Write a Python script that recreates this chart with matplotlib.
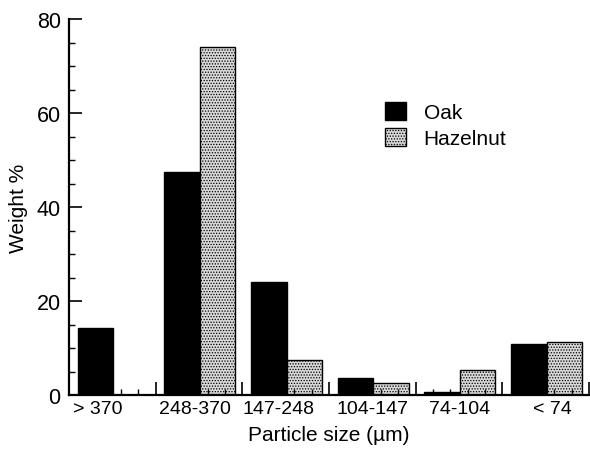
import matplotlib
matplotlib.use("Agg")
import matplotlib.pyplot as plt
import numpy as np
from matplotlib.patches import Patch
from matplotlib.ticker import MultipleLocator

plt.rcParams['font.family'] = ['Liberation Sans', 'DejaVu Sans']
plt.rcParams['hatch.linewidth'] = 0.6
plt.rcParams['hatch.color'] = '#8a8a8a'

categories = ["> 370", "248-370", "147-248", "104-147", "74-104", "< 74"]
oak = [14.3, 47.4, 24.0, 3.6, 0.6, 10.9]
hazelnut = [0.0, 74.0, 7.4, 2.6, 5.3, 11.3]
label_pos = [0.33, 1.45, 2.42, 3.50, 4.51, 5.58]

fig = plt.figure(figsize=(5.9, 4.52), dpi=100)
ax = fig.add_axes([69/590, 56/452, 520/590, 376/452])

x = np.arange(len(categories))
w = 0.41
ax.bar(x + 0.10, oak, width=w, align='edge', color='black',
       edgecolor='black', linewidth=1.0, zorder=1)
ax.bar(x + 0.51, hazelnut, width=w, align='edge', color='#d8d8d8',
       edgecolor='black', linewidth=1.0, hatch='......', zorder=1)

ax.set_xlim(0, 6)
ax.set_ylim(0, 80)

for s in ['top', 'right']:
    ax.spines[s].set_visible(False)
for s in ['left', 'bottom']:
    ax.spines[s].set_linewidth(1.6)
    ax.spines[s].set_zorder(3)

ax.xaxis.set_major_locator(MultipleLocator(1))
ax.xaxis.set_minor_locator(MultipleLocator(0.2))
ax.yaxis.set_major_locator(MultipleLocator(20))
ax.yaxis.set_minor_locator(MultipleLocator(5))
ax.tick_params(axis='both', which='major', direction='in', length=9.5, width=1.2)
ax.tick_params(axis='both', which='minor', direction='in', length=4.5, width=1.0)
ax.tick_params(axis='x', which='both', labelbottom=False)
ax.tick_params(axis='y', labelsize=15.5, pad=6)

for pos, lab in zip(label_pos, categories):
    ax.text(pos, -0.012, lab, transform=ax.get_xaxis_transform(),
            ha='center', va='top', fontsize=14)

ax.set_ylabel("Weight %", fontsize=15, labelpad=6)
ax.text(0.5, -0.08, "Particle size (\u00b5m)", transform=ax.transAxes,
        ha='center', va='top', fontsize=15)

handles = [Patch(facecolor='black', edgecolor='black', label='Oak'),
           Patch(facecolor='#d8d8d8', edgecolor='black', hatch='......',
                 label='Hazelnut')]
ax.legend(handles=handles, loc='upper left', bbox_to_anchor=(0.608, 0.78),
          frameon=False, fontsize=15, handlelength=1.0, handleheight=0.95,
          handletextpad=0.85, labelspacing=0.3, borderpad=0,
          borderaxespad=0)

fig.savefig("out.png", dpi=100)
